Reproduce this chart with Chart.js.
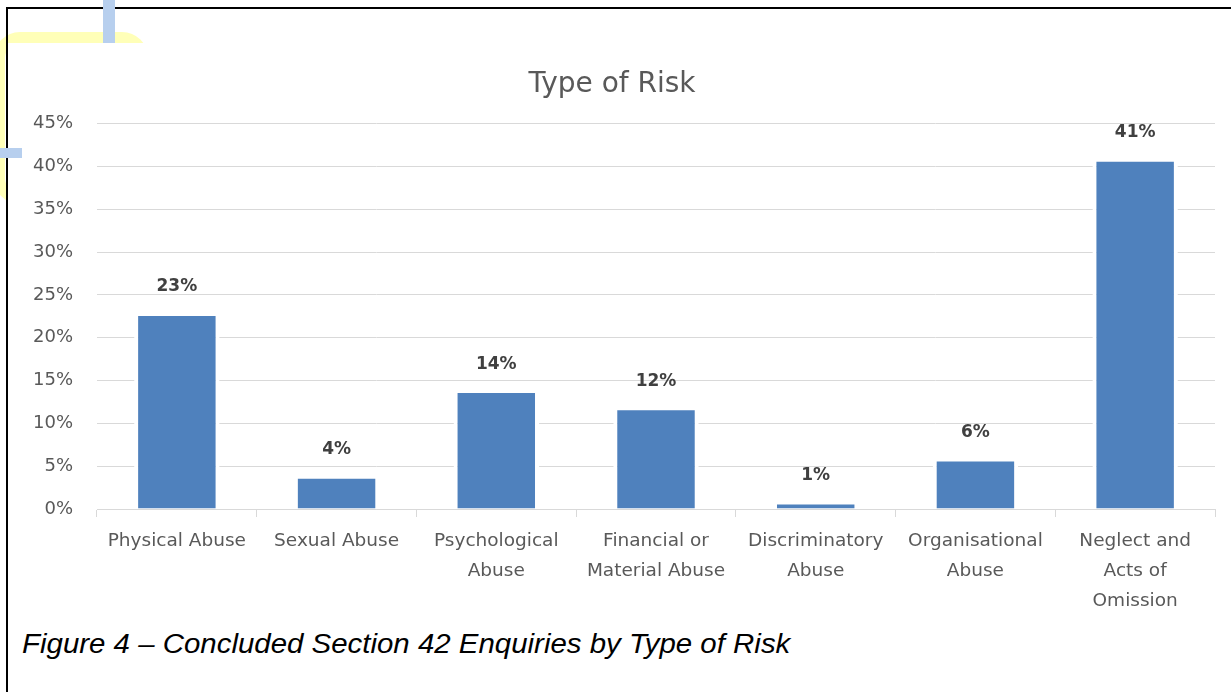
<!DOCTYPE html>
<html>
<head>
<meta charset="utf-8">
<script src="https://cdn.jsdelivr.net/npm/chart.js@4.4.0/dist/chart.umd.min.js"></script>
<style>
  html, body { margin: 0; padding: 0; background: #fff; }
  body { width: 1231px; height: 692px; position: relative; overflow: hidden; }
  /* highlighter marks left over in the page margin */
  .hl-yellow { position: absolute; left: -6px; top: 32px; width: 132px; height: 150px;
    border: 11px solid #ffffb8; border-radius: 26px; z-index: 0; }
  .hl-blue-v { position: absolute; left: 103px; top: 0; width: 12px; height: 43px; background: #b7cfee; z-index: 3; }
  .hl-blue-h { position: absolute; left: 0; top: 148px; width: 22px; height: 10px; background: #b7cfee; z-index: 3; }
  .frame { position: absolute; left: 6px; top: 7px; width: 1240px; height: 700px;
    border-top: 2px solid #000; border-left: 2px solid #000; z-index: 2; pointer-events: none; }
  .panel { position: absolute; left: 8px; top: 43px; width: 1223px; height: 572px; background: #fff; z-index: 1; }
  .chart-box { position: absolute; left: 1px; top: 0; width: 1222px; height: 570px; }
  .caption { position: absolute; left: 22px; top: 629px; z-index: 1; transform: scaleX(1.09); transform-origin: left top;
    font-family: "Liberation Sans", Arial, sans-serif; font-style: italic; font-size: 27px; color: #000; white-space: nowrap; }
</style>
</head>
<body>
<div class="hl-yellow"></div>
<div class="hl-blue-v"></div>
<div class="hl-blue-h"></div>
<div class="panel">
  <div class="chart-box"><canvas id="riskChart"></canvas></div>
</div>
<div class="frame"></div>
<div class="caption">Figure 4 – Concluded Section 42 Enquiries by Type of Risk</div>

<script>
// categories (multi-line labels) and percentages per type of risk
const riskTypes = [
  ["Physical Abuse"],
  ["Sexual Abuse"],
  ["Psychological", "Abuse"],
  ["Financial or", "Material Abuse"],
  ["Discriminatory", "Abuse"],
  ["Organisational", "Abuse"],
  ["Neglect and", "Acts of", "Omission"]
];
const riskShare = [23, 4, 14, 12, 1, 6, 41];
const yTicks = [0, 5, 10, 15, 20, 25, 30, 35, 40, 45];

const FONT = "'DejaVu Sans', sans-serif";
const GREY = "#595959";
const GRID = "#d9d9d9";

// value labels above each bar
const barValueLabels = {
  id: 'barValueLabels',
  afterDatasetsDraw(chart) {
    const ctx = chart.ctx;
    const meta = chart.getDatasetMeta(0);
    ctx.save();
    ctx.font = "bold 17px " + FONT;
    ctx.fillStyle = "#404040";
    ctx.textAlign = "center";
    ctx.textBaseline = "middle";
    meta.data.forEach((bar, i) => {
      ctx.fillText(riskShare[i] + "%", bar.x, bar.y - 25);
    });
    ctx.restore();
  }
};

new Chart(document.getElementById('riskChart'), {
  type: 'bar',
  data: {
    labels: riskTypes,
    datasets: [{
      data: riskShare,
      backgroundColor: "#4f81bd",
      borderColor: "#ffffff",
      borderWidth: 4,
      barPercentage: 0.535,
      categoryPercentage: 1
    }]
  },
  options: {
    responsive: true,
    maintainAspectRatio: false,
    animation: false,
    layout: { padding: { left: 0, right: 16, top: 0, bottom: 0 } },
    plugins: {
      legend: { display: false },
      tooltip: { enabled: false },
      title: {
        display: true,
        text: 'Type of Risk',
        color: GREY,
        font: { family: FONT, size: 28, weight: 'normal', lineHeight: 1.2 },
        padding: { top: 25, bottom: 22 }
      }
    },
    scales: {
      x: {
        grid: { drawOnChartArea: false, drawTicks: true, tickLength: 8, color: GRID, offset: true },
        border: { display: true, color: GRID },
        ticks: {
          color: GREY,
          font: { family: FONT, size: 18.5, lineHeight: 1.63 },
          padding: 9,
          maxRotation: 0,
          autoSkip: false
        },
        afterFit(scale) { scale.height = 104; }
      },
      y: {
        min: 0,
        max: 45,
        afterBuildTicks(scale) { scale.ticks = yTicks.map(v => ({ value: v })); },
        grid: { color: GRID, drawTicks: false },
        border: { display: false },
        ticks: {
          color: GREY,
          font: { family: FONT, size: 18 },
          padding: 24,
          callback: v => v + "%"
        },
        afterFit(scale) { scale.width = 88; }
      }
    }
  },
  plugins: [barValueLabels]
});
</script>
</body>
</html>
